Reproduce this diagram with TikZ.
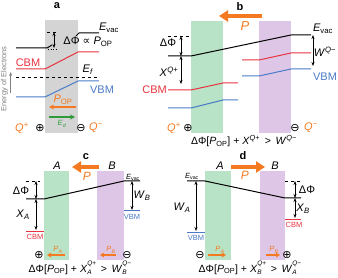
\documentclass[tikz,border=0pt]{standalone}
\usepackage{fontspec}
\setmainfont{Liberation Sans}
\newfontfamily\symfont{DejaVu Sans}
\usetikzlibrary{arrows.meta}
\usepackage{xcolor}
\definecolor{polorange}{HTML}{F47920}
\definecolor{cbmred}{HTML}{E8333F}
\definecolor{vbmblue}{HTML}{4A7BC6}
\definecolor{layergray}{HTML}{D4D4D4}
\definecolor{layergreen}{HTML}{B9E3C6}
\definecolor{layerpurple}{HTML}{DEC6E6}
\definecolor{fieldgreen}{HTML}{2E9A3A}
\definecolor{axisgray}{HTML}{7F7F7F}

\newcommand{\opl}{{\symfont ⊕}}
\newcommand{\omi}{{\symfont ⊖}}
\newcommand{\Evac}{\textit{E}\textsubscript{vac}}
\newcommand{\supsub}[2]{\raisebox{-2.6pt}{\fontsize{6.5}{7}\selectfont\shortstack[l]{#1\\#2}}}

\tikzset{
  level/.style={line width=1pt},
  dim/.style={<->, line width=0.6pt},
  refline/.style={dashed, line width=0.7pt},
  bigpol/.style={polorange, line width=4.5pt, -{Triangle[length=9pt,width=11pt]}},
  smallpol/.style={polorange, line width=1.6pt, -{Triangle[length=4pt,width=4.5pt]}},
  lbl/.style={inner sep=0pt, font=\fontsize{11}{12}\selectfont},
  tiny/.style={inner sep=0pt, font=\fontsize{7.5}{8}\selectfont},
  panel/.style={inner sep=0pt, font=\bfseries\fontsize{11}{12}\selectfont}
}

\begin{document}
\begin{tikzpicture}[x=1pt, y=-1pt, >={Stealth[length=4pt,width=3pt]}]
  \useasboundingbox (0,0) rectangle (338,278);

  % ==================== PANEL A ====================
  \fill[layergray] (45,20) rectangle (78,133);
  \node[panel] (pa) at (57,6) {a};

  % Axis
  \node[tiny, text=axisgray, rotate=90] (axis) at (4.5,79) {Energy of Electrons};
  \coordinate (axLow) at (10.7,93);
  \coordinate (axHigh) at (10.7,72);
  \draw[axisgray, line width=0.6pt, ->] (axLow) -- (axHigh);

  % Levels
  \draw[level] (16,48) -- (47,48) -- (52,45);
  \draw[dotted, line width=0.6pt] (48,49) -- (58,49);
  \draw[level] (76,36) -- (79,33) -- (99,33);
  \draw[refline] (47,32) -- (58,32);
  \coordinate (aTop) at (54,32);
  \coordinate (aVac) at (54,48);
  \draw[dim] (aTop) -- (aVac);
  \draw[level, cbmred] (16,69) -- (45,69) -- (78,52) -- (99,52);
  \draw[refline] (16,77) -- (99,77);
  \draw[level, vbmblue] (16,97) -- (45,97) -- (78,81) -- (99,81);

  \node[lbl] (aEvac) at (109,28) {\Evac};
  \node[lbl] (aDPhi) at (88,42) {ΔΦ {\symfont ∝} \textit{P}\textsubscript{OP}};
  \node[lbl, text=cbmred] (aCBM) at (28,63) {CBM};
  \node[lbl] (aEf) at (88,70) {\textit{E}\textsubscript{\textit{f}}};
  \node[lbl, text=vbmblue] (aVBM) at (102,90) {VBM};

  % Polarization and field
  \coordinate (aPolR) at (76,107);
  \coordinate (aPolL) at (49,107);
  \draw[polorange, line width=1.6pt, -{Stealth[length=5pt,width=5pt]}] (aPolR) -- (aPolL);
  \node[lbl, text=polorange] (aPop) at (63,100) {\textit{P}\textsubscript{OP}};
  \coordinate (aFldL) at (49,117);
  \coordinate (aFldR) at (75,117);
  \draw[fieldgreen, line width=1.6pt, -{Stealth[length=5pt,width=5pt]}] (aFldL) -- (aFldR);
  \node[tiny, text=fieldgreen] (aEd) at (62,124) {\textit{E}\textsubscript{\textit{d}}};

  \node[lbl, text=polorange] (aQp) at (22,128) {\textit{Q}\textsuperscript{+}};
  \node[lbl] (aPlus) at (40,128) {\opl};
  \node[lbl] (aMinus) at (81,128) {\omi};
  \node[lbl, text=polorange] (aQm) at (96,128) {\textit{Q}\textsuperscript{−}};

  % ==================== PANEL B ====================
  \fill[layergreen] (191,21) rectangle (223,133);
  \fill[layerpurple] (259,21) rectangle (291,133);
  \node[panel] (pb) at (240,7) {b};
  \coordinate (bPolR) at (262,16);
  \coordinate (bPolL) at (219,16);
  \draw[bigpol] (bPolR) -- (bPolL);
  \node[lbl, text=polorange, font=\fontsize{13}{14}\selectfont] (bP) at (245,26) {\textit{P}};

  \draw[refline] (168,36) -- (191,36);
  \draw[level] (168,56) -- (191,56) -- (291,35) -- (311,35);
  \draw[level, cbmred] (168,90) -- (191,90) -- (223,83) -- (238,83);
  \draw[level, vbmblue] (168,108) -- (191,108) -- (223,100) -- (238,100);
  \draw[level, cbmred] (242,60) -- (259,60) -- (291,53) -- (311,53);
  \draw[level, vbmblue] (242,76) -- (259,76) -- (291,69) -- (311,69);

  \coordinate (bTop) at (181,36);
  \coordinate (bVac) at (181,56);
  \coordinate (bCbm) at (181,84);
  \draw[dim] (bTop) -- (bVac);
  \draw[dim] (bVac) -- (bCbm);
  \coordinate (bVacR) at (313,35);
  \coordinate (bVbmR) at (313,66);
  \draw[dim] (bVacR) -- (bVbmR);

  \node[lbl] (bDPhi) at (168,43) {ΔΦ};
  \node[lbl] (bX) at (169,72) {\textit{X}\textsuperscript{\textit{Q}+}};
  \node[lbl, text=cbmred, anchor=east] (bCBM) at (167,90) {CBM};
  \node[lbl] (bEvac) at (323,29) {\Evac};
  \node[lbl] (bW) at (325,52) {\textit{W}\textsuperscript{\textit{Q}−}};
  \node[lbl, text=vbmblue] (bVBM) at (325,77) {VBM};

  \node[lbl, text=polorange] (bQp) at (174,128) {\textit{Q}\textsuperscript{+}};
  \node[lbl] (bPlus) at (188,128) {\opl};
  \node[lbl] (bMinus) at (295,128) {\omi};
  \node[lbl, text=polorange] (bQm) at (311,128) {\textit{Q}\textsuperscript{−}};
  \node[lbl, font=\fontsize{10.5}{12}\selectfont] (bRule) at (244,141)
    {ΔΦ[\textit{P}\textsubscript{OP}] + \textit{X}\textsuperscript{\textit{Q}+} \,>\, \textit{W}\textsuperscript{\textit{Q}−}};

  % ==================== PANEL C ====================
  \fill[layergreen] (44,171) rectangle (69,260);
  \fill[layerpurple] (97,171) rectangle (124,260);
  \node[panel] (pc) at (86,157) {c};
  \node[lbl] (cA) at (57,166) {\textit{A}};
  \node[lbl] (cB) at (112,166) {\textit{B}};
  \coordinate (cPolR) at (99,167);
  \coordinate (cPolL) at (72,167);
  \draw[bigpol, line width=4pt] (cPolR) -- (cPolL);
  \node[lbl, text=polorange, font=\fontsize{12}{13}\selectfont] (cP) at (87,176) {\textit{P}};

  \draw[refline] (26,181) -- (40,181);
  \draw[level] (26,199) -- (44,199) -- (124,181) -- (140,181);
  \draw[level, cbmred] (26,231) -- (44,231);
  \draw[level, vbmblue] (124,211) -- (140,211);
  \coordinate (cTop) at (36,181);
  \coordinate (cVac) at (36,199);
  \coordinate (cCbm) at (36,230);
  \draw[dim] (cTop) -- (cVac);
  \draw[dim] (cVac) -- (cCbm);
  \coordinate (cVacR) at (132,181);
  \coordinate (cVbmR) at (132,210);
  \draw[dim] (cVacR) -- (cVbmR);

  \node[lbl] (cDPhi) at (21,191) {ΔΦ};
  \node[lbl] (cX) at (23,215) {\textit{X}\textsubscript{\textit{A}}};
  \node[tiny, text=cbmred] (cCBM) at (35,237) {CBM};
  \node[tiny] (cEvac) at (133,177) {\Evac};
  \node[lbl] (cW) at (142,196) {\textit{W}\textsubscript{\textit{B}}};
  \node[tiny, text=vbmblue] (cVBM) at (132,217) {VBM};

  \node[lbl] (cPlus) at (39,255) {\opl};
  \coordinate (cPaR) at (65,255);
  \coordinate (cPaL) at (47,255);
  \draw[smallpol] (cPaR) -- (cPaL);
  \node[tiny, text=polorange] (cPa) at (58,250) {\textit{P}\textsubscript{\textit{A}}};
  \coordinate (cPbR) at (116,255);
  \coordinate (cPbL) at (100,255);
  \draw[smallpol] (cPbR) -- (cPbL);
  \node[tiny, text=polorange] (cPb) at (111,250) {\textit{P}\textsubscript{\textit{B}}};
  \node[lbl] (cMinus) at (127,255) {\omi};
  \node[lbl, font=\fontsize{10.5}{12}\selectfont] (cRule) at (80,268)
    {ΔΦ[\textit{P}\textsubscript{OP}] + \textit{X}\supsub{\textit{Q}+}{\textit{A}} \,>\, \textit{W}\supsub{\textit{Q}−}{\textit{B}}};

  % ==================== PANEL D ====================
  \fill[layergreen] (205,171) rectangle (231,260);
  \fill[layerpurple] (260,171) rectangle (285,260);
  \node[panel] (pd) at (243,156) {d};
  \node[lbl] (dA) at (220,166) {\textit{A}};
  \node[lbl] (dB) at (275,166) {\textit{B}};
  \coordinate (dPolL) at (231,167);
  \coordinate (dPolR) at (265,167);
  \draw[bigpol, line width=4pt] (dPolL) -- (dPolR);
  \node[lbl, text=polorange, font=\fontsize{12}{13}\selectfont] (dP) at (245,175) {\textit{P}};

  \draw[level] (187,181) -- (205,181) -- (285,198) -- (301,198);
  \draw[refline] (285,181) -- (301,181);
  \draw[level, vbmblue] (187,232) -- (205,232);
  \draw[level, cbmred] (285,219) -- (301,219);
  \coordinate (dVacL) at (196,181);
  \coordinate (dVbmL) at (196,231);
  \draw[dim] (dVacL) -- (dVbmL);
  \coordinate (dTop) at (295,181);
  \coordinate (dVac) at (295,198);
  \coordinate (dCbm) at (295,218);
  \draw[dim] (dTop) -- (dVac);
  \draw[dim] (dVac) -- (dCbm);

  \node[tiny] (dEvac) at (192,176) {\Evac};
  \node[lbl] (dW) at (182,208) {\textit{W}\textsubscript{\textit{A}}};
  \node[tiny, text=vbmblue] (dVBM) at (196,238) {VBM};
  \node[lbl] (dDPhi) at (307,190) {ΔΦ};
  \node[lbl] (dX) at (303,209) {\textit{X}\textsubscript{\textit{B}}};
  \node[tiny, text=cbmred] (dCBM) at (294,225) {CBM};

  \node[lbl] (dMinus) at (200,255) {\omi};
  \coordinate (dPaL) at (208,255);
  \coordinate (dPaR) at (226,255);
  \draw[smallpol] (dPaL) -- (dPaR);
  \node[tiny, text=polorange] (dPa) at (220,250) {\textit{P}\textsubscript{\textit{A}}};
  \coordinate (dPbL) at (266,255);
  \coordinate (dPbR) at (280,255);
  \draw[smallpol] (dPbL) -- (dPbR);
  \node[tiny, text=polorange] (dPb) at (274,250) {\textit{P}\textsubscript{\textit{B}}};
  \node[lbl] (dPlus) at (287,255) {\opl};
  \node[lbl, font=\fontsize{10.5}{12}\selectfont] (dRule) at (250,268)
    {ΔΦ[\textit{P}\textsubscript{OP}] + \textit{X}\supsub{\textit{Q}+}{\textit{B}} \,>\, \textit{W}\supsub{\textit{Q}−}{\textit{A}}};

\end{tikzpicture}
\end{document}
